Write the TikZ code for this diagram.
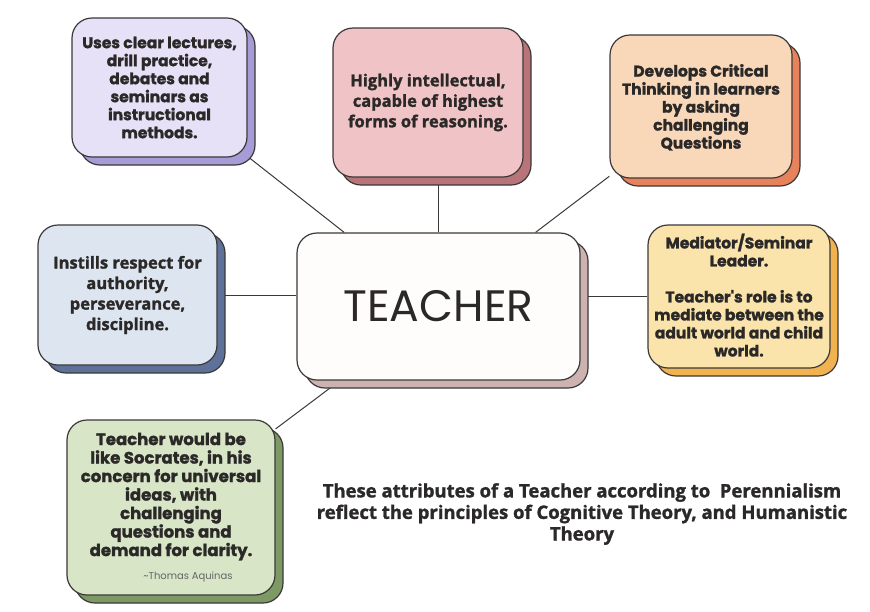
\documentclass[tikz,border=0pt]{standalone}
\usepackage{fontspec}
\setmainfont{Open Sans}[BoldFeatures={FakeBold=1.5}]
\newfontfamily\geofont{Poppins}[BoldFeatures={FakeBold=1.5}]
\usetikzlibrary{positioning,shadows,backgrounds}

\definecolor{linec}{HTML}{3A3838}
\definecolor{inkc}{HTML}{2B2828}
\definecolor{lilacfill}{HTML}{E7E1F8}
\definecolor{lilacsh}{HTML}{A79CD6}
\definecolor{rosefill}{HTML}{F0C3C6}
\definecolor{rosesh}{HTML}{B87479}
\definecolor{peachfill}{HTML}{F9D8BA}
\definecolor{peachsh}{HTML}{E8825C}
\definecolor{skyfill}{HTML}{DDE6F0}
\definecolor{skysh}{HTML}{5E7199}
\definecolor{sandfill}{HTML}{FBE4AC}
\definecolor{sandsh}{HTML}{F1B350}
\definecolor{sagefill}{HTML}{D8E5C6}
\definecolor{sagesh}{HTML}{7E9A64}
\definecolor{teachfill}{HTML}{FFFDFB}
\definecolor{teachsh}{HTML}{CDB3AF}

\begin{document}
\begin{tikzpicture}[x=1pt,y=-1pt,
card/.style={draw=linec,line width=1.2pt,rounded corners=20pt,align=center,inner sep=4pt,text=inkc},
backing/.style={general shadow={fill=#1,draw=linec,line width=1.2pt,shadow xshift=8pt,shadow yshift=-8pt}},
geo/.style={font=\geofont\bfseries\fontsize{15.5}{18}\selectfont},
sans/.style={font=\bfseries\fontsize{16.5}{20.5}\selectfont},
link/.style={draw=linec,line width=1pt}]
\useasboundingbox (0,0) rectangle (870,611);

\node (teacher) [card,backing=teachsh,fill=teachfill,minimum width=283pt,minimum height=147pt,
    font=\geofont\fontsize{44}{44}\selectfont] at (438.5,306.5) {TEACHER};

\node (lilac) [card,geo,backing=lilacsh,fill=lilacfill,minimum width=175pt,minimum height=139pt]
    at (159.5,87.5) {Uses clear lectures,\\drill practice,\\debates and\\seminars as\\instructional\\methods.};
\node (rose) [card,sans,backing=rosesh,fill=rosefill,minimum width=190pt,minimum height=149pt]
    at (428,102.5) {Highly intellectual,\\capable of highest\\forms of reasoning.};
\node (peach) [card,geo,backing=peachsh,fill=peachfill,minimum width=182pt,minimum height=143pt]
    at (701,106.5) {\mbox{}\\[-4pt]Develops Critical\\Thinking in learners\\by asking\\challenging\\Questions};
\node (sky) [card,sans,backing=skysh,fill=skyfill,minimum width=179pt,minimum height=140pt]
    at (127.5,295) {Instills respect for\\authority,\\perseverance,\\discipline.};
\node (sand) [card,geo,backing=sandsh,fill=sandfill,minimum width=182pt,minimum height=143pt]
    at (739,296.5) {\mbox{}\\[-6pt]Mediator/Seminar\\Leader.\\[18pt]Teacher's role is to\\mediate between the\\adult world and child\\world.};
\node (sage) [card,geo,font=\geofont\bfseries\fontsize{16.5}{18.5}\selectfont,backing=sagesh,fill=sagefill,
    minimum width=208pt,minimum height=175pt]
    at (171,507.5) {Teacher would be\\like Socrates, in his\\concern for universal\\ideas, with\\challenging\\questions and\\demand for clarity.\\[5pt]
    \hspace*{34pt}{\mdseries\fontsize{10}{12}\selectfont\color{black!60}\textasciitilde Thomas Aquinas}};

% caption under the map
\node (note) [sans,font=\bfseries\fontsize{18.5}{21.5}\selectfont,align=center,text=inkc]
    at (582,514) {These attributes of a Teacher according to\ \ Perennialism\\reflect the principles of Cognitive Theory, and Humanistic\\Theory};

\begin{scope}[on background layer]
\draw[link] (lilac) -- (teacher);
\draw[link] (teacher.north) -- (teacher.north |- rose.south);
\draw[link] (peach) -- (teacher);
\draw[link] (sky) -- (sky -| teacher.west);
\draw[link] (sand) -- (sand -| teacher.east);
\draw[link] (sage) -- (teacher);
\end{scope}
\end{tikzpicture}
\end{document}
